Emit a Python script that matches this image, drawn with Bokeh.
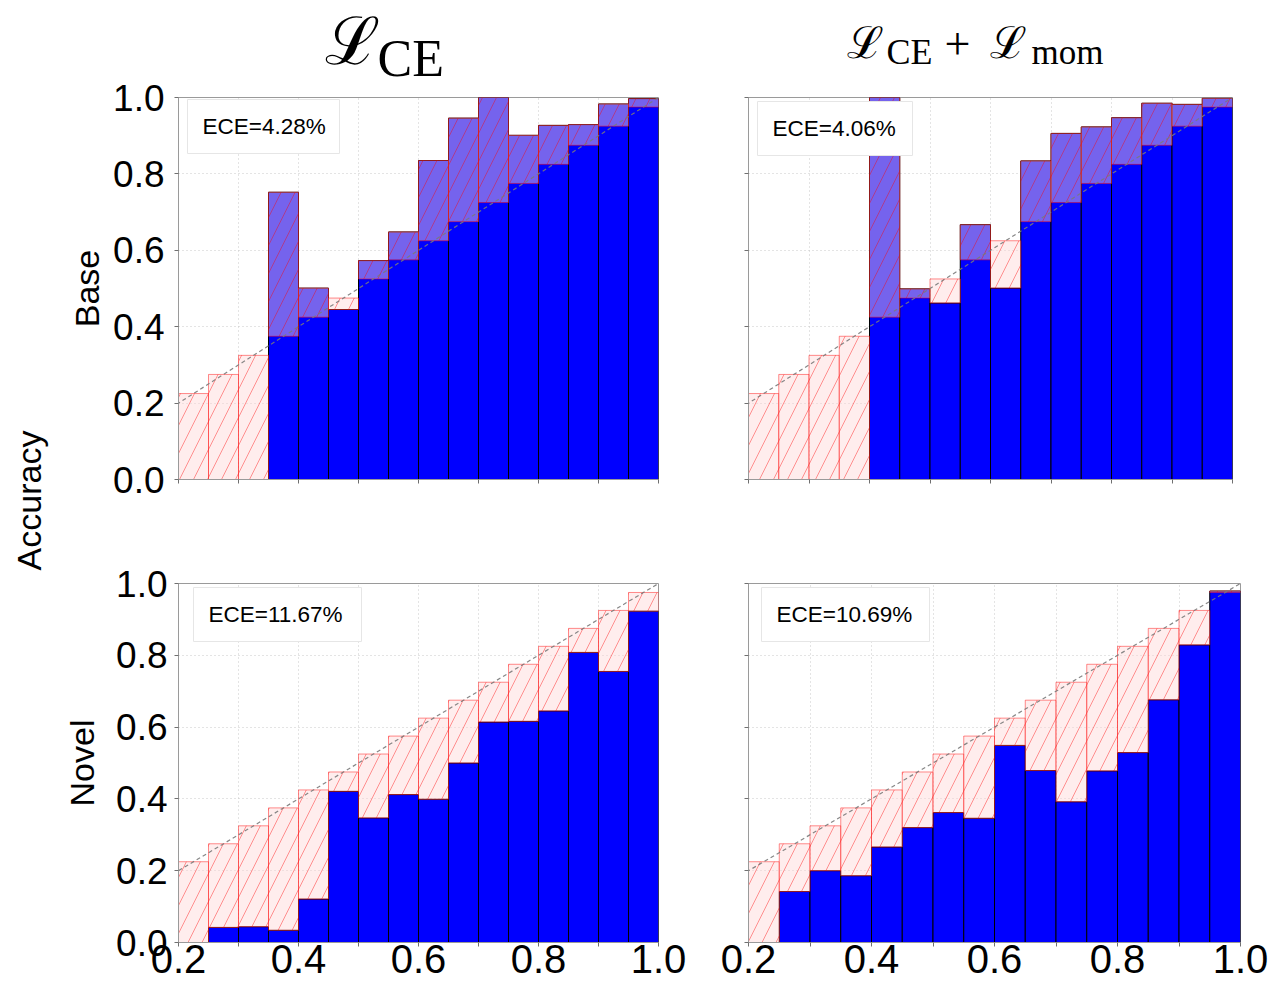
import math
from bokeh.plotting import figure
from bokeh.layouts import row, column
from bokeh.models import Label, FixedTicker, Range1d, PrintfTickFormatter
from bokeh.core.properties import value
from bokeh.embed import file_html
from bokeh.resources import INLINE

# ---------------- data ----------------
bin_left = [0.20, 0.25, 0.30, 0.35, 0.40, 0.45, 0.50, 0.55, 0.60, 0.65, 0.70, 0.75, 0.80, 0.85, 0.90, 0.95]
bin_right = [0.25, 0.30, 0.35, 0.40, 0.45, 0.50, 0.55, 0.60, 0.65, 0.70, 0.75, 0.80, 0.85, 0.90, 0.95, 1.00]
bin_conf = [0.225, 0.275, 0.325, 0.375, 0.425, 0.475, 0.525, 0.575, 0.625, 0.675, 0.725, 0.775, 0.825, 0.875, 0.925, 0.975]

acc_base_ce = [0.0, 0.0, 0.0, 0.752, 0.501, 0.445, 0.573, 0.648, 0.835, 0.946, 1.0, 0.901, 0.927, 0.929, 0.983, 0.997]
acc_base_mom = [0.0, 0.0, 0.0, 0.0, 1.0, 0.499, 0.462, 0.667, 0.501, 0.834, 0.906, 0.923, 0.947, 0.985, 0.982, 0.998]
acc_novel_ce = [0.0, 0.042, 0.044, 0.034, 0.121, 0.421, 0.347, 0.412, 0.399, 0.500, 0.614, 0.616, 0.645, 0.808, 0.755, 0.923]
acc_novel_mom = [0.0, 0.142, 0.200, 0.186, 0.266, 0.320, 0.362, 0.346, 0.549, 0.479, 0.392, 0.478, 0.529, 0.676, 0.829, 0.979]

ece_labels = ["ECE=4.28%", "ECE=4.06%", "ECE=11.67%", "ECE=10.69%"]
row_labels = ["Base", "Novel"]
y_title = "Accuracy"
col_title_main = ["\u2112", "\u2112", "\u2112"]
col_title_sub = ["CE", "CE", "mom"]
col_title_op = ["+"]

x_major = [0.2, 0.4, 0.6, 0.8, 1.0]
x_minor = [0.3, 0.5, 0.7, 0.9]
y_major = [0.0, 0.2, 0.4, 0.6, 0.8, 1.0]
diag = [0.0, 1.0]

FONT = "Liberation Sans"
W0, WY, W1, W2 = 50, 120, 538, 570      # accuracy title | y tick labels (top row) | left panels | right panels
HT, H1, H2 = 90, 440, 459               # column titles | top panels | bottom panels


def style_axis(ax):
    ax.formatter = PrintfTickFormatter(format="%.1f")
    ax.axis_line_color = "#9a9a9a"
    ax.major_tick_line_color = "#707070"
    ax.minor_tick_line_color = "#707070"
    ax.major_tick_in = 0
    ax.major_tick_out = 4
    ax.minor_tick_in = 0
    ax.minor_tick_out = 4
    ax.major_label_text_font = FONT
    ax.major_label_text_color = "black"


def panel(acc, ece_text, ece_box, width, height, mb, xlabels, ylabel=None, ylabel_standoff=4):
    p = figure(width=width, height=height, x_range=Range1d(0.2, 1.0), y_range=Range1d(0.0, 1.0),
               toolbar_location=None, output_backend="svg",
               min_border_left=mb[0], min_border_right=mb[1], min_border_top=mb[2], min_border_bottom=mb[3])
    p.outline_line_color = "#9a9a9a"
    p.background_fill_color = "white"
    p.border_fill_color = "white"

    p.xaxis.ticker = FixedTicker(ticks=x_major, minor_ticks=x_minor)
    p.yaxis.ticker = FixedTicker(ticks=y_major, minor_ticks=[])
    style_axis(p.xaxis[0])
    style_axis(p.yaxis[0])
    if ylabel:
        p.yaxis.major_label_text_font_size = "37px"
        p.yaxis.major_label_standoff = 7
        p.yaxis.axis_label = ylabel
        p.yaxis.axis_label_text_font = FONT
        p.yaxis.axis_label_text_font_size = "34px"
        p.yaxis.axis_label_text_font_style = "normal"
        p.yaxis.axis_label_text_color = "black"
        p.yaxis.axis_label_standoff = ylabel_standoff
    else:
        p.yaxis.major_label_text_font_size = "1px"
        p.yaxis.major_label_text_color = None
        p.yaxis.major_label_standoff = 0
    if xlabels:
        p.xaxis.major_label_text_font_size = "40px"
        p.xaxis.major_label_standoff = -2
    else:
        p.xaxis.major_label_text_font_size = "1px"
        p.xaxis.major_label_text_color = None
        p.xaxis.major_label_standoff = 0

    p.xgrid.grid_line_color = "#c8c8c8"
    p.xgrid.grid_line_dash = "1 3"
    p.xgrid.minor_grid_line_color = "#c8c8c8"
    p.xgrid.minor_grid_line_dash = "1 3"
    p.ygrid.grid_line_color = "#c8c8c8"
    p.ygrid.grid_line_dash = "1 3"

    zeros = [0.0] * len(acc)
    # accuracy bars
    p.quad(left=bin_left, right=bin_right, bottom=zeros, top=acc,
           fill_color="#0000ff", line_color="black", line_width=1)
    # gap bars (between accuracy and confidence)
    p.quad(left=bin_left, right=bin_right, bottom=acc, top=bin_conf,
           fill_color="#ffd8d8", fill_alpha=0.46,
           line_color="#ff0000", line_alpha=0.45, line_width=1,
           hatch_pattern="/", hatch_color="#ff0000", hatch_alpha=0.4,
           hatch_scale=28, hatch_weight=1)
    # perfect calibration
    p.line(x=diag, y=diag, line_color="#7a7a7a", line_dash="4 3", line_width=1.2, line_alpha=0.9)

    # ECE text box: (box_left_px, box_top_px, box_w_px, box_h_px, pad_px) from the frame's top-left
    fw = width - mb[0] - mb[1]
    fh = height - mb[2] - mb[3]
    bx, by, bw, bh, pad = ece_box
    sx = 0.8 / fw
    sy = 1.0 / fh
    p.quad(left=[0.2 + bx * sx], right=[0.2 + (bx + bw) * sx],
           top=[1.0 - by * sy], bottom=[1.0 - (by + bh) * sy],
           fill_color="white", fill_alpha=1.0, line_color="#e6e6e6", line_width=1)
    p.add_layout(Label(x=0.2 + (bx + pad) * sx, y=1.0 - (by + bh / 2) * sy, text=ece_text,
                       text_font=FONT, text_font_size="22.5px", text_color="black",
                       text_align="left", text_baseline="middle"))
    return p


def ylabel_fig(height, mb_top, mb_bottom, label, label_standoff):
    f = figure(width=WY, height=height, x_range=Range1d(0, 1), y_range=Range1d(0.0, 1.0),
               toolbar_location=None, output_backend="svg", x_axis_type=None,
               min_border_left=WY - 1, min_border_right=0,
               min_border_top=mb_top, min_border_bottom=mb_bottom)
    f.outline_line_color = None
    f.xgrid.visible = False
    f.ygrid.visible = False
    f.yaxis.ticker = FixedTicker(ticks=y_major, minor_ticks=[])
    ax = f.yaxis[0]
    ax.formatter = PrintfTickFormatter(format="%.1f")
    ax.axis_line_color = None
    ax.major_tick_line_color = None
    ax.minor_tick_line_color = None
    ax.major_tick_in = 0
    ax.major_tick_out = 0
    ax.major_label_standoff = 5
    ax.major_label_text_font = FONT
    ax.major_label_text_font_size = "37px"
    ax.major_label_text_color = "black"
    ax.axis_label = label
    ax.axis_label_text_font = FONT
    ax.axis_label_text_font_size = "34px"
    ax.axis_label_text_font_style = "normal"
    ax.axis_label_text_color = "black"
    ax.axis_label_standoff = label_standoff
    return f


tl = panel(acc_base_ce, ece_labels[0], (9, 2, 152, 54, 15), W1, H1, (8, 50, 7, 51), False)
tr = panel(acc_base_mom, ece_labels[1], (9, 4, 155, 54, 15), W2, H1, (40, 46, 7, 51), False)
bl = panel(acc_novel_ce, ece_labels[2], (15, 4, 168, 54, 15), WY + W1, H2, (WY + 8, 50, 53, 47), True,
           row_labels[1], 12)
br = panel(acc_novel_mom, ece_labels[3], (13, 4, 168, 54, 15), W2, H2, (40, 38, 53, 47), True)

ylab_top = ylabel_fig(HT + H1, 97, 51, row_labels[0], 4)

# ---------------- column titles (page coordinates, y downwards) ----------------
X0 = W0 + WY
tf = figure(width=W1 + W2, height=HT, x_range=Range1d(X0, X0 + W1 + W2), y_range=Range1d(HT, 0),
            toolbar_location=None, output_backend="svg", min_border=0,
            x_axis_type=None, y_axis_type=None)
tf.outline_line_color = None
tf.xgrid.visible = False
tf.ygrid.visible = False


def tpart(x, y, txt, font, size):
    tf.text(x=[x], y=[y], text=[txt], text_font=value(font), text_font_size=size,
            text_baseline="middle", text_align="left", text_color="black")


# left column: L_CE
tpart(324, 41, col_title_main[0], "DejaVu Serif", "66px")
tpart(377, 58, col_title_sub[0], "Liberation Serif", "52px")
# right column: L_CE + L_mom
tpart(846, 42, col_title_main[1], "DejaVu Serif", "44px")
tpart(886, 51, col_title_sub[1], "Liberation Serif", "36px")
tpart(944, 43, col_title_op[0], "Liberation Serif", "46px")
tpart(989, 42, col_title_main[2], "DejaVu Serif", "44px")
tpart(1031, 52, col_title_sub[2], "Liberation Serif", "35px")

# ---------------- shared y title ----------------
acc_fig = figure(width=W0, height=HT + H1 + H2, x_range=Range1d(0, W0), y_range=Range1d(HT + H1 + H2, 0),
                 toolbar_location=None, output_backend="svg", min_border=0,
                 x_axis_type=None, y_axis_type=None)
acc_fig.outline_line_color = None
acc_fig.xgrid.visible = False
acc_fig.ygrid.visible = False
acc_fig.text(x=[28], y=[500], text=[y_title], angle=math.pi / 2, text_align="center",
             text_baseline="middle", text_font=value(FONT), text_font_size="34px", text_color="black")

top_row = row(ylab_top, column(tf, row(tl, tr)))
bottom_row = row(bl, br)
layout = row(acc_fig, column(top_row, bottom_row))

open("out.html", "w").write(file_html(layout, INLINE))
